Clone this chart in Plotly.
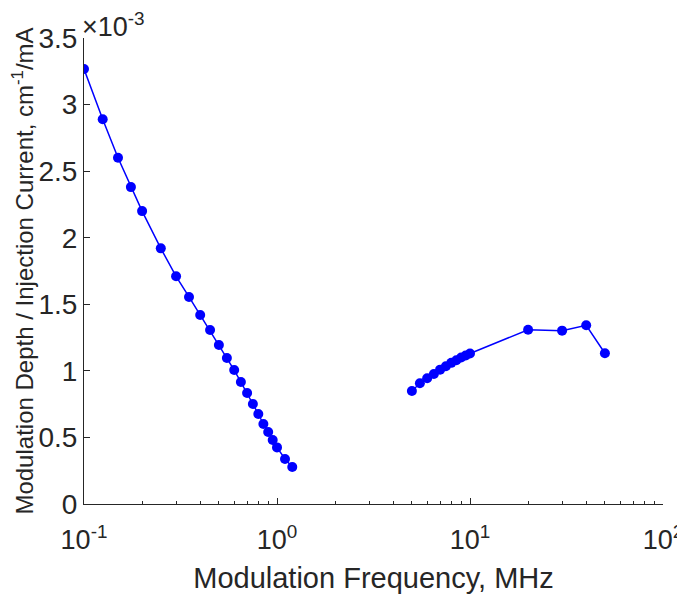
import plotly.graph_objects as go

# Low-frequency series
freq_low = [0.1, 0.125, 0.15, 0.175, 0.2, 0.25, 0.3, 0.35, 0.4, 0.45, 0.5, 0.55,
            0.6, 0.65, 0.7, 0.75, 0.8, 0.85, 0.9, 0.95, 1.0, 1.1, 1.2]
depth_low = [3.267e-3, 2.89e-3, 2.60e-3, 2.38e-3, 2.20e-3, 1.92e-3, 1.71e-3, 1.555e-3,
             1.42e-3, 1.307e-3, 1.194e-3, 1.097e-3, 1.006e-3, 0.916e-3, 0.834e-3,
             0.751e-3, 0.676e-3, 0.601e-3, 0.541e-3, 0.481e-3, 0.425e-3, 0.338e-3, 0.278e-3]

# High-frequency series
freq_high = [5, 5.5, 6, 6.5, 7, 7.5, 8, 8.5, 9, 9.5, 10, 20, 30, 40, 50]
depth_high = [0.849e-3, 0.907e-3, 0.944e-3, 0.976e-3, 1.009e-3, 1.035e-3, 1.06e-3,
              1.08e-3, 1.10e-3, 1.115e-3, 1.13e-3, 1.309e-3, 1.302e-3, 1.342e-3, 1.132e-3]

x_tickvals = [0.1, 1, 10, 100]
x_ticktext = ["10<sup>-1</sup>", "10<sup>0</sup>", "10<sup>1</sup>", "10<sup>2</sup>"]
y_tickvals = [0, 0.5e-3, 1e-3, 1.5e-3, 2e-3, 2.5e-3, 3e-3, 3.5e-3]
y_ticktext = ["0", "0.5", "1", "1.5", "2", "2.5", "3", "3.5"]

FONT = "Liberation Sans, Arial, sans-serif"
AX = "#262626"
BLUE = "#0000FF"

fig = go.Figure()
for xs, ys in [(freq_low, depth_low), (freq_high, depth_high)]:
    fig.add_trace(go.Scatter(
        x=xs, y=ys, mode="lines+markers",
        line=dict(color=BLUE, width=1.5),
        marker=dict(color=BLUE, size=10),
        showlegend=False, hoverinfo="x+y"))

fig.update_layout(
    width=677, height=586,
    margin=dict(l=76, r=22, t=30, b=90),
    paper_bgcolor="white", plot_bgcolor="white",
    font=dict(family=FONT, color=AX, size=27),
    showlegend=False,
)
fig.update_xaxes(
    type="log", range=[-1, 2],
    tickvals=x_tickvals, ticktext=x_ticktext,
    ticks="inside", ticklen=6, tickwidth=1, tickcolor=AX,
    ticklabelstandoff=12,
    minor=dict(ticks="inside", ticklen=3.5, tickcolor=AX, dtick="D1", showgrid=False),
    showline=True, linecolor=AX, linewidth=1, mirror=False,
    showgrid=False, zeroline=False,
    tickfont=dict(size=27, color=AX, family=FONT),
    title=dict(text="Modulation Frequency, MHz", font=dict(size=29, color=AX, family=FONT), standoff=14),
    automargin=False,
)
fig.update_yaxes(
    range=[0, 3.5e-3],
    tickvals=y_tickvals, ticktext=y_ticktext,
    ticks="inside", ticklen=6, tickwidth=1, tickcolor=AX,
    showline=True, linecolor=AX, linewidth=1, mirror=False,
    showgrid=False, zeroline=False,
    tickfont=dict(size=28, color=AX, family=FONT),
    title=dict(text="Modulation Depth / Injection Current, cm<sup>-1</sup>/mA",
               font=dict(size=24, color=AX, family=FONT), standoff=8),
    automargin=False,
)
fig.add_annotation(
    text="\u00d710<sup>-3</sup>", xref="paper", yref="paper", x=0, y=1.0,
    xanchor="left", yanchor="bottom", showarrow=False, xshift=-4, yshift=-6,
    font=dict(size=27, color=AX, family=FONT))

fig.write_html("out.html")
